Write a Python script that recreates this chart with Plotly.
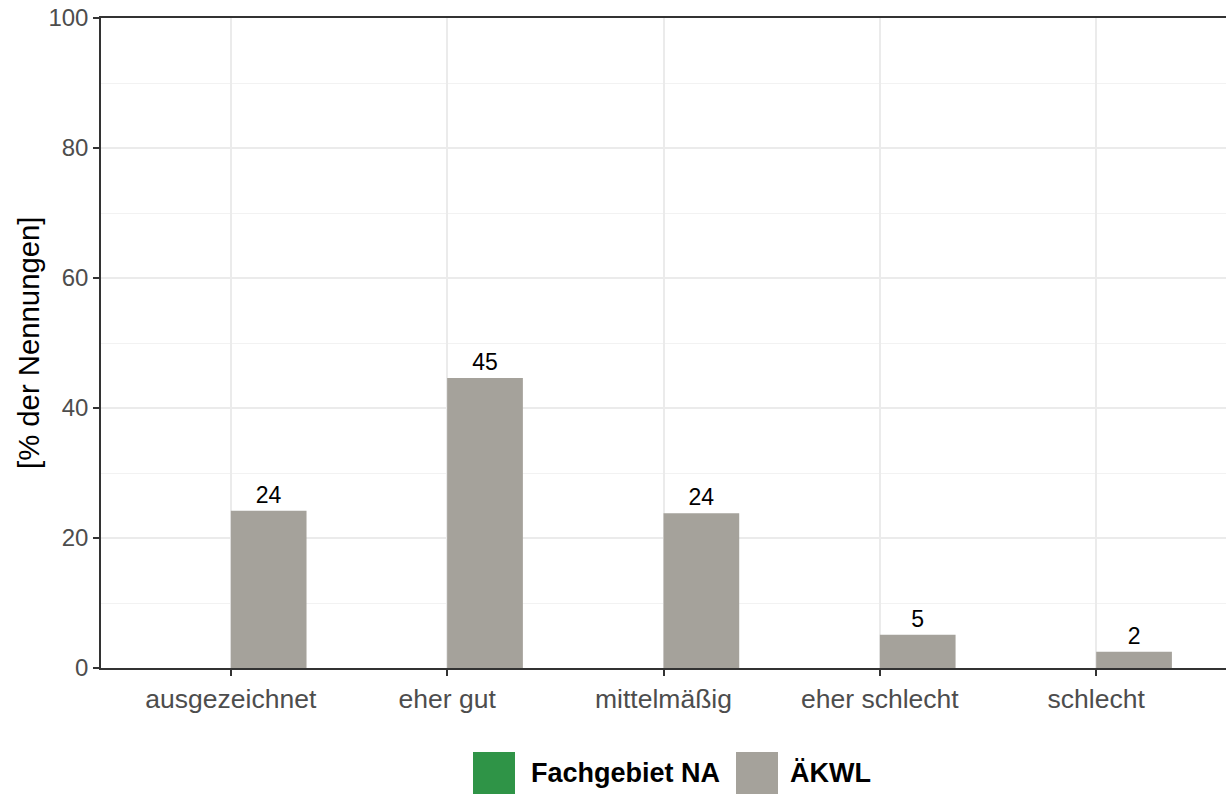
import plotly.graph_objects as go

categories = ["ausgezeichnet", "eher gut", "mittelmäßig", "eher schlecht", "schlecht"]
fachgebiet_values = [None, None, None, None, None]
aekwl_values = [24.2, 44.6, 23.8, 5.1, 2.5]
aekwl_labels = [str(round(v)) for v in aekwl_values]
series_names = ["Fachgebiet NA", "ÄKWL"]
series_colors = ["#2F9447", "#A5A29B"]
y_ticks = [0, 20, 40, 60, 80, 100]
y_title = "[% der Nennungen]"

W, H = 1226, 794
L, R, T, B = 101, 0, 18, 126
PW, PH = W - L - R, H - T - B
FONT = "Liberation Sans, Arial"

fig = go.Figure()
fig.add_trace(go.Bar(x=categories, y=fachgebiet_values, name=series_names[0],
                     marker=dict(color=series_colors[0], line=dict(width=0)),
                     showlegend=False))
fig.add_trace(go.Bar(x=categories, y=aekwl_values, name=series_names[1],
                     marker=dict(color=series_colors[1], line=dict(width=0)),
                     text=aekwl_labels, textposition="outside",
                     textfont=dict(family=FONT, size=23, color="black"),
                     cliponaxis=False, showlegend=False))

fig.update_layout(
    width=W, height=H,
    margin=dict(l=L, r=R, t=T, b=B, pad=0),
    plot_bgcolor="white", paper_bgcolor="white",
    barmode="group", bargap=0.3, bargroupgap=0,
    font=dict(family=FONT, size=25, color="#4D4D4D"),
    xaxis=dict(type="category", range=[-0.6, 4.6], showgrid=True, gridcolor="#EBEBEB", gridwidth=2,
               showline=True, linecolor="#333333", linewidth=1.5, mirror=True,
               ticks="outside", ticklen=6, tickwidth=1.5, tickcolor="#333333",
               tickfont=dict(family=FONT, size=26.5, color="#4D4D4D"), zeroline=False),
    yaxis=dict(range=[0, 100], tickvals=y_ticks, showgrid=True, gridcolor="#EBEBEB", gridwidth=1.5,
               minor=dict(dtick=10, tick0=0, showgrid=True, gridcolor="#F2F2F2", gridwidth=1),
               showline=True, linecolor="#333333", linewidth=1.5,
               ticks="outside", ticklen=6, tickwidth=1.5, tickcolor="#333333",
               tickfont=dict(family=FONT, size=24, color="#4D4D4D"), zeroline=False),
)

def px_x(px):
    return (px - L) / PW

def px_y(py):
    return (H - B - py) / PH

# y-axis title as rotated annotation
fig.add_annotation(xref="paper", yref="paper", x=px_x(28), y=0.5, text=y_title,
                   textangle=-90, showarrow=False, xanchor="center", yanchor="middle",
                   font=dict(family=FONT, size=29.3, color="black"))

# manual legend (large squares like ggplot)
legend_items = [(473, 515, 529), (736, 778, 788)]
for (x0, x1, tx), name, col in zip(legend_items, series_names, series_colors):
    fig.add_shape(type="rect", xref="paper", yref="paper",
                  x0=px_x(x0), x1=px_x(x1), y0=px_y(794), y1=px_y(752),
                  fillcolor=col, line=dict(width=0))
    fig.add_annotation(xref="paper", yref="paper", x=px_x(tx), y=px_y(773),
                       text="<b>" + name + "</b>", showarrow=False, xanchor="left", yanchor="middle",
                       font=dict(family=FONT, size=27, color="black"))

fig.write_html("out.html", config={"displayModeBar": False},
               post_script="document.body.style.margin='0';")
